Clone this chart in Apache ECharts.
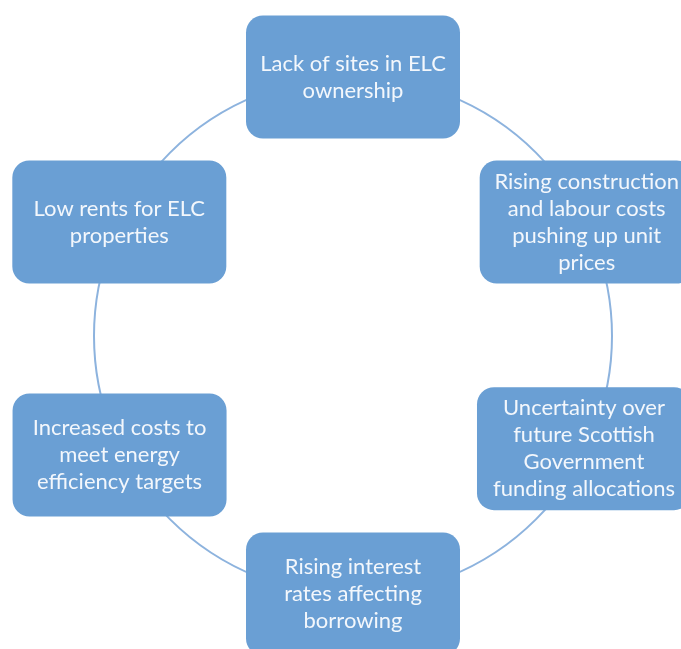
<!DOCTYPE html>
<html>
<head>
<meta charset="utf-8">
<script src="https://cdn.jsdelivr.net/npm/echarts@6/dist/echarts.min.js"></script>
<style>
html,body{margin:0;padding:0;background:#fff;}
#chart{width:681px;height:649px;}
</style>
</head>
<body>
<div id="chart"></div>
<script>
// Cycle steps (clockwise from top)
const stepLabels = [
  "Lack of sites in ELC\nownership",
  "Rising construction\nand labour costs\npushing up unit\nprices",
  "Uncertainty over\nfuture Scottish\nGovernment\nfunding allocations",
  "Rising interest\nrates affecting\nborrowing",
  "Increased costs to\nmeet energy\nefficiency targets",
  "Low rents for ELC\nproperties"
];
// angular position of each step on the cycle (degrees, counter-clockwise from east)
const stepAngles = [90, 26, 334, 270, 207, 154];
// distance of each step from the cycle centre (same unit as the ring radius)
const stepRadii = [259, 260, 257, 258, 262, 260];
const ringRadius = 259;

const chart = echarts.init(document.getElementById('chart'));
const BOX_W = 214, BOX_H = 123;
chart.setOption({
  backgroundColor: '#ffffff',
  animation: false,
  polar: { center: [353, 336], radius: ringRadius },
  angleAxis: {
    type: 'value', min: 0, max: 360, startAngle: 0, clockwise: false,
    axisLine: { show: true, lineStyle: { color: '#8db3de', width: 2 } },
    axisTick: { show: false }, axisLabel: { show: false }, splitLine: { show: false }
  },
  radiusAxis: {
    type: 'value', min: 0, max: ringRadius,
    axisLine: { show: false }, axisTick: { show: false }, axisLabel: { show: false }, splitLine: { show: false }
  },
  series: [{
    type: 'custom',
    coordinateSystem: 'polar',
    data: stepRadii.map((r, i) => [r, stepAngles[i]]),
    renderItem: function (params, api) {
      const p = api.coord([api.value(0), api.value(1)]);
      return {
        type: 'rect',
        shape: { x: p[0] - BOX_W / 2, y: p[1] - BOX_H / 2, width: BOX_W, height: BOX_H, r: 17 },
        style: { fill: '#6a9fd4' },
        textContent: {
          style: {
            text: stepLabels[params.dataIndex],
            fill: '#f3f7fc',
            font: '22px Lato, "Open Sans", sans-serif',
            lineHeight: 27,
            align: 'center',
            verticalAlign: 'middle'
          }
        },
        textConfig: { position: 'inside' }
      };
    }
  }]
});
</script>
</body>
</html>
